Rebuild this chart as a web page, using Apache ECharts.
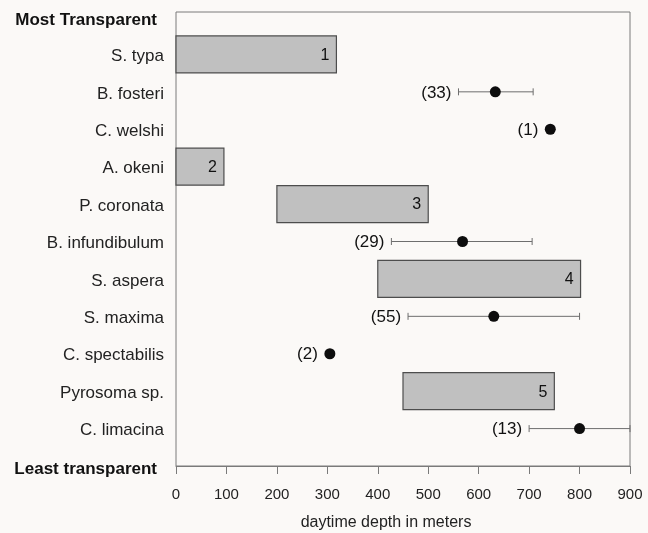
<!DOCTYPE html>
<html>
<head>
<meta charset="utf-8">
<script src="https://cdn.jsdelivr.net/npm/echarts@6/dist/echarts.min.js"></script>
<style>
html,body{margin:0;padding:0;background:#fbf9f7;}
#c{width:648px;height:533px;}
</style>
</head>
<body>
<div id="c"></div>
<script>
// ---- data ----
var categories = ['Most Transparent','S. typa','B. fosteri','C. welshi','A. okeni','P. coronata','B. infundibulum','S. aspera','S. maxima','C. spectabilis','Pyrosoma sp.','C. limacina','Least transparent'];
var xTicks = [0,100,200,300,400,500,600,700,800,900];

var barSpecies = ['S. typa','A. okeni','P. coronata','S. aspera','Pyrosoma sp.'];
var barStart   = [0, 0, 200, 400, 450];
var barEnd     = [318, 95, 500, 802, 750];
var barLabel   = ['1','2','3','4','5'];

var pointSpecies = ['B. fosteri','C. welshi','B. infundibulum','S. maxima','C. spectabilis','C. limacina'];
var pointMean    = [633, 742, 568, 630, 305, 800];
var pointLow     = [560, null, 427, 460, null, 700];
var pointHigh    = [708, null, 706, 800, null, 900];
var pointN       = ['(33)','(1)','(29)','(55)','(2)','(13)'];

var FONT = "'Liberation Sans', Arial, Helvetica, sans-serif";

var barData = barSpecies.map(function(s,i){ return [barStart[i], barEnd[i], categories.indexOf(s)]; });
var pointData = pointSpecies.map(function(s,i){
  return [pointMean[i], pointLow[i] == null ? '-' : pointLow[i], pointHigh[i] == null ? '-' : pointHigh[i], categories.indexOf(s)];
});

var chart = echarts.init(document.getElementById('c'), null, {renderer:'canvas'});
chart.setOption({
  backgroundColor: '#fbf9f7',
  animation: false,
  grid: [
    {left:176, right:18, top:17, bottom:67, outerBoundsMode:'none', containLabel:false},
    {left:176, right:18, top:12, bottom:67, show:true, borderColor:'#7a7a7a', borderWidth:1, backgroundColor:'transparent', outerBoundsMode:'none', containLabel:false}
  ],
  xAxis: [
    {
      gridIndex:0, type:'value', min:0, max:900, interval:100,
      splitLine:{show:false},
      axisLine:{show:true, lineStyle:{color:'#7a7a7a', width:1}},
      axisTick:{show:true, inside:false, length:8, lineStyle:{color:'#7a7a7a'}},
      axisLabel:{show:true, margin:21, fontSize:15, fontFamily:FONT, color:'#222',
        formatter:function(v){ return xTicks.indexOf(v) >= 0 ? String(v) : ''; }},
      name:'daytime depth in meters', nameLocation:'middle', nameGap:49,
      nameTextStyle:{fontSize:16, fontFamily:FONT, color:'#222', padding:[0,34,0,0]}
    },
    {gridIndex:1, type:'value', min:0, max:900, show:false}
  ],
  yAxis: [
    {
      gridIndex:0, type:'category', data:categories, inverse:true, boundaryGap:false,
      axisLine:{show:false}, axisTick:{show:false}, splitLine:{show:false},
      axisLabel:{
        interval:0, margin:12, fontSize:17, fontFamily:FONT, color:'#222',
        padding:[4,0,0,0],
        formatter:function(v,i){ return (i===0 || i===categories.length-1) ? '{b|'+v+'}' : v; },
        rich:{ b:{fontWeight:'bold', fontSize:17, fontFamily:FONT, color:'#111', padding:[2,7,0,0]} }
      }
    },
    {gridIndex:1, type:'value', show:false}
  ],
  series: [
    {
      type:'custom', xAxisIndex:0, yAxisIndex:0, data:barData,
      encode:{x:[0,1], y:2},
      renderItem:function(params, api){
        var cat = api.value(2);
        var p0 = api.coord([api.value(0), cat]);
        var p1 = api.coord([api.value(1), cat]);
        var h = 37;
        return {type:'group', children:[
          {type:'rect', shape:{x:p0[0], y:p0[1]-h/2, width:p1[0]-p0[0], height:h},
           style:{fill:'#c0c0c0', stroke:'#4d4d4d', lineWidth:1.2}},
          {type:'text', style:{text:barLabel[params.dataIndex], x:p1[0]-7, y:p0[1]+1, align:'right', verticalAlign:'middle',
           font:'16px ' + FONT, fill:'#111'}}
        ]};
      }
    },
    {
      type:'custom', xAxisIndex:0, yAxisIndex:0, data:pointData,
      encode:{x:[0,1,2], y:3},
      renderItem:function(params, api){
        var cat = api.value(3);
        var pm = api.coord([api.value(0), cat]);
        var lo = pointLow[params.dataIndex], hi = pointHigh[params.dataIndex];
        var children = [];
        var leftX = pm[0] - 12;
        if (lo != null && hi != null) {
          var pl = api.coord([lo, cat]), ph = api.coord([hi, cat]);
          var ls = {stroke:'#6e6e6e', lineWidth:1};
          children.push({type:'line', shape:{x1:pl[0], y1:pl[1], x2:ph[0], y2:ph[1]}, style:ls});
          children.push({type:'line', shape:{x1:pl[0], y1:pl[1]-3.5, x2:pl[0], y2:pl[1]+3.5}, style:ls});
          children.push({type:'line', shape:{x1:ph[0], y1:ph[1]-3.5, x2:ph[0], y2:ph[1]+3.5}, style:ls});
          leftX = pl[0] - 7;
        }
        children.push({type:'circle', shape:{cx:pm[0], cy:pm[1], r:5.5}, style:{fill:'#0d0d0d'}});
        children.push({type:'text', style:{text:pointN[params.dataIndex], x:leftX, y:pm[1]+1, align:'right', verticalAlign:'middle',
          font:'17px ' + FONT, fill:'#111'}});
        return {type:'group', children:children};
      }
    }
  ]
});
</script>
</body>
</html>
